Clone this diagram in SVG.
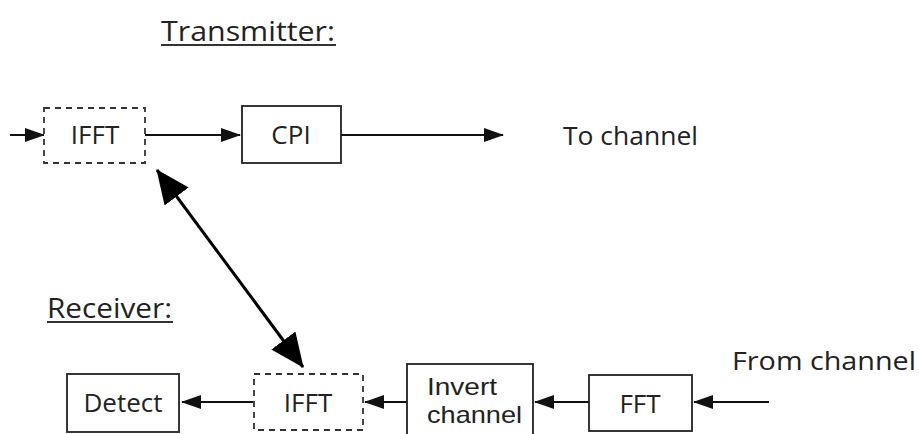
<svg xmlns="http://www.w3.org/2000/svg" width="919" height="434" viewBox="0 0 919 434">
<style>
.box{fill:#fff;stroke:#222;stroke-width:1.8}
.dash{fill:#fff;stroke:#333;stroke-width:1.8;stroke-dasharray:6 5}
.t{font-family:"Open Sans","Liberation Sans",Arial,sans-serif;font-size:26px;fill:#222}
.t2{font-family:"Liberation Sans",Arial,sans-serif;font-size:24px;fill:#222}
.c{text-anchor:middle}
.ln{stroke:#111;stroke-width:1.8;fill:none}
.ul{stroke:#333;stroke-width:2}
</style>
<defs>
<marker id="ah" markerUnits="userSpaceOnUse" markerWidth="20" markerHeight="14" refX="19" refY="7" orient="auto">
<path d="M0,0 L20,7 L0,14 Z" fill="#111"/>
</marker>
<marker id="big" markerUnits="userSpaceOnUse" markerWidth="34" markerHeight="30" refX="33" refY="15" orient="auto-start-reverse">
<path d="M0,0 L34,15 L0,30 Z" fill="#000"/>
</marker>
</defs>
<g id="labels">
<text class="t" x="161" y="41" style="font-size:28px" textLength="174" lengthAdjust="spacingAndGlyphs">Transmitter:</text>
<line class="ul" x1="161" y1="45" x2="336" y2="45"/>
<text class="t" x="47" y="318" style="font-size:28px" textLength="125" lengthAdjust="spacingAndGlyphs">Receiver:</text>
<line class="ul" x1="47" y1="322" x2="173" y2="322"/>
<text class="t" x="563" y="145" textLength="135" lengthAdjust="spacingAndGlyphs">To channel</text>
<text class="t" x="732" y="370" textLength="184" lengthAdjust="spacingAndGlyphs">From channel</text>
</g>
<g id="connectors">
<line class="ln" x1="10" y1="135" x2="44" y2="135" marker-end="url(#ah)"/>
<line class="ln" x1="145" y1="135" x2="240" y2="135" marker-end="url(#ah)"/>
<line class="ln" x1="341" y1="135" x2="503" y2="135" marker-end="url(#ah)"/>
<line class="ln" x1="253" y1="402" x2="182" y2="402" marker-end="url(#ah)"/>
<line class="ln" x1="407" y1="402" x2="365" y2="402" marker-end="url(#ah)"/>
<line class="ln" x1="589" y1="402" x2="535" y2="402" marker-end="url(#ah)"/>
<line class="ln" x1="769" y1="402" x2="694" y2="402" marker-end="url(#ah)"/>
<line x1="157" y1="170" x2="303" y2="367" stroke="#000" stroke-width="3" marker-start="url(#big)" marker-end="url(#big)"/>
</g>
<g id="ifft-tx">
<rect class="dash" x="44" y="108" width="101" height="55"/>
<text class="t c" x="95" y="144">IFFT</text>
</g>
<g id="cpi">
<rect class="box" x="242" y="106" width="99" height="57"/>
<text class="t c" x="291" y="144">CPI</text>
</g>
<g id="detect">
<rect class="box" x="67" y="374" width="112" height="58"/>
<text class="t c" x="123" y="412">Detect</text>
</g>
<g id="ifft-rx">
<rect class="dash" x="254" y="374" width="109" height="56"/>
<text class="t c" x="308" y="412">IFFT</text>
</g>
<g id="invert">
<rect class="box" x="407" y="364" width="126" height="80"/>
<text class="t2" x="427" y="395" textLength="70" lengthAdjust="spacingAndGlyphs">Invert</text>
<text class="t2" x="427" y="423" textLength="95" lengthAdjust="spacingAndGlyphs">channel</text>
</g>
<g id="fft">
<rect class="box" x="589" y="375" width="103" height="56"/>
<text class="t c" x="640" y="413">FFT</text>
</g>
</svg>
